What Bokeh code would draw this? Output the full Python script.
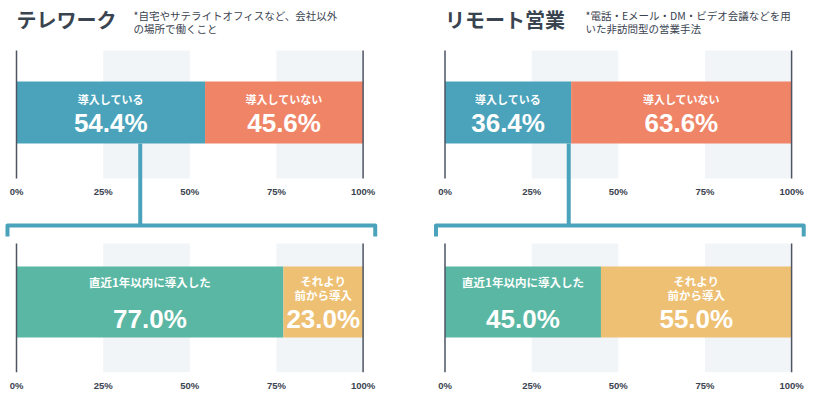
from bokeh.plotting import figure
from bokeh.models import Range1d, FixedTicker
from bokeh.layouts import row
from bokeh.embed import file_html
from bokeh.resources import INLINE
from bokeh.core.properties import value

# ---- data ----
titles = ["テレワーク", "リモート営業"]
notes = [["*自宅やサテライトオフィスなど、会社以外", "の場所で働くこと"],
         ["*電話・Eメール・DM・ビデオ会議などを用", "いた非訪問型の営業手法"]]
top_labels = ["導入している", "導入していない"]
top_values = [[54.4, 45.6], [36.4, 63.6]]
bottom_labels = [["直近1年以内に導入した"], ["それより", "前から導入"]]
bottom_values = [[77.0, 23.0], [45.0, 55.0]]
tick_values = [0, 25, 50, 75, 100]
tick_labels = ["0%", "25%", "50%", "75%", "100%"]

# ---- style ----
TOP_COLORS = ["#4aa3bb", "#ef8467"]
BOTTOM_COLORS = ["#5ab7a3", "#eec073"]
TEXT = "#3a4350"
RULE = "#4d5563"
BAND = "#f2f5f8"
JP = value("Noto Sans CJK JP")
LAT = value("Liberation Sans")
PX = 3.466  # pixels per percent
W, H, FRAME_H = 408, 400, 372


def cum_edges(vals):
    lefts, rights, acc = [], [], 0.0
    for v in vals:
        lefts.append(acc)
        acc += v
        rights.append(acc)
    return lefts, rights


def make_panel(i, x_start, note_x):
    p = figure(width=W, height=H,
               x_range=Range1d(x_start, x_start + W / PX),
               y_range=Range1d(FRAME_H, 0),
               output_backend="svg", toolbar_location=None,
               y_axis_location=None,
               min_border_left=0, min_border_right=0,
               min_border_top=0, min_border_bottom=H - FRAME_H)
    p.outline_line_color = None
    p.grid.visible = False

    ax = p.xaxis[0]
    ax.ticker = FixedTicker(ticks=tick_values)
    ax.major_label_overrides = {t: l for t, l in zip(tick_values, tick_labels)}
    ax.axis_line_color = None
    ax.major_tick_line_color = None
    ax.minor_tick_line_color = None
    ax.major_tick_out = 0
    ax.major_tick_in = 0
    ax.major_label_standoff = 7
    ax.major_label_text_font = "Liberation Sans"
    ax.major_label_text_font_style = "bold"
    ax.major_label_text_font_size = "9.5px"
    ax.major_label_text_color = TEXT

    blocks = [(50, 178), (243, 372)]
    for (y0, y1) in blocks:
        p.quad(left=tick_values[1::2], right=tick_values[2::2],
               top=y0, bottom=y1, fill_color=BAND, line_color=None)

    # connector + bracket
    teal = TOP_COLORS[0]
    p.line(x=[35.7, 35.7], y=[143, 225], line_color=teal, line_width=4)
    p.line(x=[-2.6, -2.6, 103.5, 103.5], y=[236, 225, 225, 236],
           line_color=teal, line_width=4, line_join="round")

    # top bar
    tl, tr = cum_edges(top_values[i])
    p.hbar(y=112, height=62, left=tl, right=tr, fill_color=TOP_COLORS,
           line_color=None)
    tc = [(a + b) / 2 for a, b in zip(tl, tr)]
    p.text(x=tc, y=98, text=top_labels, text_font=JP, text_font_style="bold",
           text_font_size="11px", text_color="white",
           text_align="center", text_baseline="middle")
    p.text(x=tc, y=122, text=[f"{v:.1f}%" for v in top_values[i]],
           text_font=LAT, text_font_style="bold", text_font_size="26px",
           text_color="white", text_align="center", text_baseline="middle")

    # bottom bar
    bl, br = cum_edges(bottom_values[i])
    p.hbar(y=301.5, height=71, left=bl, right=br, fill_color=BOTTOM_COLORS,
           line_color=None)
    bc = [(a + b) / 2 for a, b in zip(bl, br)]
    lx, ly, lt = [], [], []
    for c, lines in zip(bc, bottom_labels):
        for k, s in enumerate(lines):
            lx.append(c)
            ly.append((281 if len(lines) == 1 else 280) + 14 * k)
            lt.append(s)
    p.text(x=lx, y=ly, text=lt, text_font=JP,
           text_font_style="bold", text_font_size="11.5px",
           text_color="white", text_align="center", text_baseline="middle")
    p.text(x=bc, y=318, text=[f"{v:.1f}%" for v in bottom_values[i]],
           text_font=LAT, text_font_style="bold", text_font_size="26px",
           text_color="white", text_align="center", text_baseline="middle")

    # 0% / 100% rules
    for (y0, y1) in blocks:
        p.segment(x0=[tick_values[0], tick_values[-1]],
                  x1=[tick_values[0], tick_values[-1]],
                  y0=y0, y1=y1, line_color=RULE, line_width=1.5)

    # upper tick labels
    p.text(x=tick_values, y=191, text=tick_labels, text_font=LAT,
           text_font_style="bold", text_font_size="9.5px", text_color=TEXT,
           text_align="center", text_baseline="middle")

    # title + note
    p.text(x=[0], y=[19], text=[titles[i]], text_font=JP,
           text_font_style="bold", text_font_size="20px", text_color=TEXT,
           text_align="left", text_baseline="middle")
    p.text(x=[note_x] * len(notes[i]), y=[15, 28], text=notes[i],
           text_font=JP, text_font_size="10.5px", text_color=TEXT,
           text_align="left", text_baseline="middle")
    return p


p1 = make_panel(0, -16 / PX, 117 / PX)
p2 = make_panel(1, -36.5 / PX, (585 - 408 - 36.5) / PX)
layout = row(p1, p2)

open("out.html", "w").write(file_html(layout, INLINE))
